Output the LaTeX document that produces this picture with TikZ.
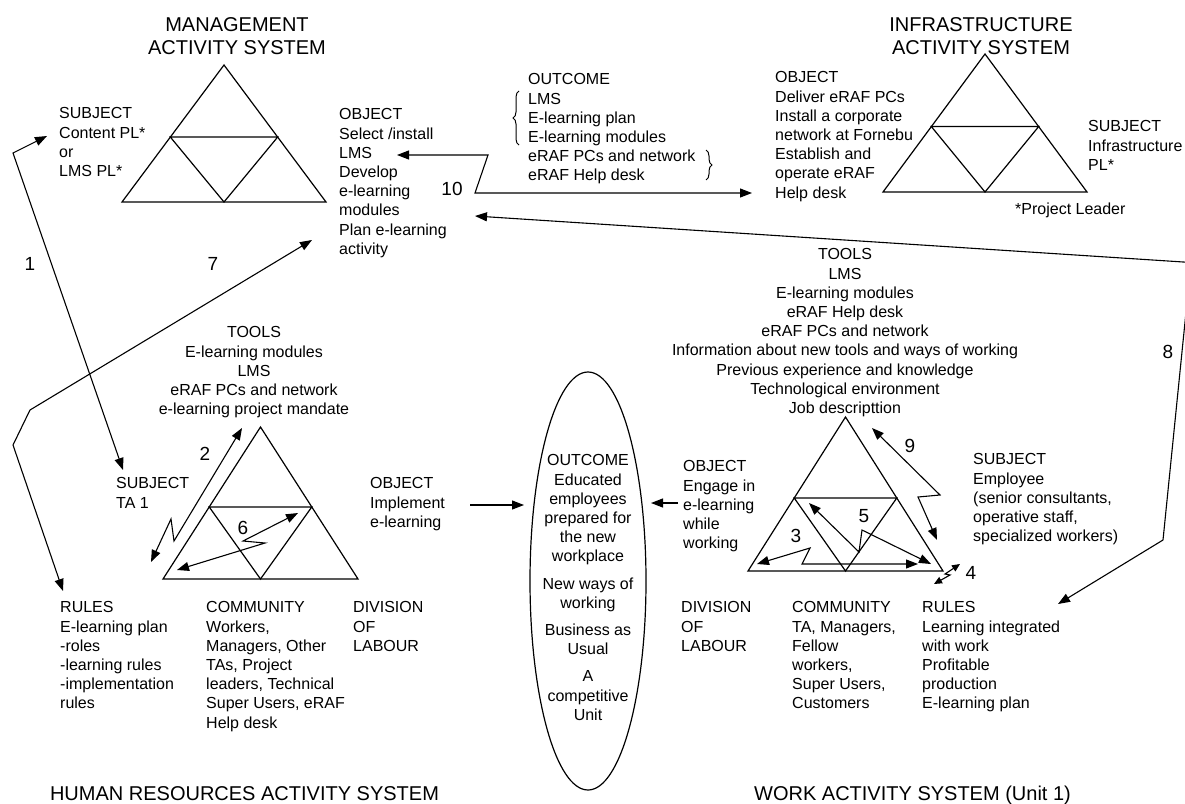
\documentclass[tikz,border=0pt]{standalone}
\usepackage{fontspec}
\setmainfont{Liberation Sans}
\usetikzlibrary{arrows.meta,shapes.geometric,decorations.pathreplacing}
\newcommand\bodyf{\fontsize{16}{19.2}\selectfont}
\newcommand\ttlf{\fontsize{20}{23}\selectfont}
\newcommand\numf{\fontsize{19}{22}\selectfont}
% apex x, apex y, half base, height
\newcommand\acttri[4]{%
  \draw[tri] (#1,#2) -- (#1-#3,#2+#4) -- (#1+#3,#2+#4) -- cycle;
  \draw[tri] (#1-0.526*#3,#2+0.526*#4) -- (#1+0.526*#3,#2+0.526*#4) -- (#1,#2+#4) -- cycle;}
\begin{document}
\begin{tikzpicture}[x=1pt,y=-1pt,
  tri/.style={line width=1.2pt,line join=miter},
  conn/.style={line width=1.1pt,line join=miter,-{Triangle[length=12pt,width=9pt]}},
  dconn/.style={line width=1.1pt,line join=miter,{Triangle[length=12pt,width=9pt]}-{Triangle[length=12pt,width=9pt]}},
  sconn/.style={line width=1.1pt,line join=miter,{Triangle[length=8pt,width=7pt]}-{Triangle[length=8pt,width=7pt]}},
  txt/.style={anchor=north west,align=left,inner sep=0pt,font=\bodyf},
  ctxt/.style={anchor=north,align=center,inner sep=0pt,font=\bodyf},
  ttl/.style={anchor=north,align=center,inner sep=0pt,font=\ttlf},
  num/.style={anchor=base,inner sep=0pt,font=\numf},
  brc/.style={line width=1pt,decorate,decoration={brace,amplitude=6pt}}]
\useasboundingbox (0,0) rectangle (1185,803);
\fill[white] (0,0) rectangle (1185,803);
\clip (0,0) rectangle (1185,803);

% ---------- triangles
\acttri{224}{65}{102}{137}
\acttri{985}{54}{102}{138}
\acttri{260.5}{427}{97.5}{152}
\acttri{845.5}{417}{97.5}{154}

% ---------- management
\node[ttl] (mtitle) at (237,17.7) {MANAGEMENT\\ACTIVITY SYSTEM};
\node[txt] (msub) at (59,107.5) {SUBJECT\\Content PL*\\or\\LMS PL*};
\node[txt] (mobj) at (339,108.5) {OBJECT\\Select /install\\LMS\\Develop\\e-learning\\modules\\Plan e-learning\\activity};

% ---------- outcome (top)
\node[txt] (mout) at (528,73.5) {OUTCOME\\LMS\\E-learning plan\\E-learning modules\\eRAF PCs and network\\eRAF Help desk};
\coordinate (b1a) at (519,145);
\coordinate (b1b) at (519,91);
\draw[brc] (b1a) -- (b1b);
\coordinate (b2a) at (706,150);
\coordinate (b2b) at (706,180);
\draw[brc] (b2a) -- (b2b);

% ---------- infrastructure
\node[ttl] (ititle) at (981,17.7) {INFRASTRUCTURE\\ACTIVITY SYSTEM};
\node[txt] (iobj) at (775,71.5) {OBJECT\\Deliver eRAF PCs\\Install a corporate\\network at Fornebu\\Establish and\\operate eRAF\\Help desk};
\node[txt] (isub) at (1088,120.5) {SUBJECT\\Infrastructure\\PL*};
\node[anchor=base west,inner sep=0pt,font=\bodyf] (pl) at (1015,214) {*Project Leader};

% ---------- human resources
\node[ctxt] (htools) at (254,326.5) {TOOLS\\E-learning modules\\LMS\\eRAF PCs and network\\e-learning project mandate};
\node[txt] (hsub) at (116,477.5) {SUBJECT\\TA 1};
\node[txt] (hobj) at (370,477.5) {OBJECT\\Implement\\e-learning};
\node[txt] (hrul) at (60,601.5) {RULES\\E-learning plan\\-roles\\-learning rules\\-implementation\\rules};
\node[txt] (hcom) at (206,601.5) {COMMUNITY\\Workers,\\Managers, Other\\TAs, Project\\leaders, Technical\\Super Users, eRAF\\Help desk};
\node[txt] (hdiv) at (353,601.5) {DIVISION\\OF\\LABOUR};
\node[anchor=base,inner sep=0pt,font=\ttlf] (htitle) at (244.5,800) {HUMAN RESOURCES ACTIVITY SYSTEM};

% ---------- central outcome
\node[draw,ellipse,line width=1.2pt,minimum width=116pt,minimum height=418pt,inner sep=0pt] (ell) at (588,581) {};
\node[ctxt] (eout) at (588,454.5) {OUTCOME\\Educated\\employees\\prepared for\\the new\\workplace\\[8pt]New ways of\\working\\[8pt]Business as\\Usual\\[8pt]A\\competitive\\Unit};

% ---------- work
\node[ctxt] (wtools) at (845,248.5) {TOOLS\\LMS\\E-learning modules\\eRAF Help desk\\eRAF PCs and network\\Information about new tools and ways of working\\Previous experience and knowledge\\Technological environment\\Job descripttion};
\node[txt] (wobj) at (683,460.5) {OBJECT\\Engage in\\e-learning\\while\\working};
\node[txt] (wsub) at (973,453.5) {SUBJECT\\Employee\\(senior consultants,\\operative staff,\\specialized workers)};
\node[txt] (wdiv) at (681,601.5) {DIVISION\\OF\\LABOUR};
\node[txt] (wcom) at (792,601.5) {COMMUNITY\\TA, Managers,\\Fellow\\workers,\\Super Users,\\Customers};
\node[txt] (wrul) at (922,601.5) {RULES\\Learning integrated\\with work\\Profitable\\production\\E-learning plan};
\node[anchor=base,inner sep=0pt,font=\ttlf] (wtitle) at (912.5,800) {WORK ACTIVITY SYSTEM (Unit 1)};

% ---------- numbers
\node[num] (n1) at (30,270) {1};
\node[num] (n7) at (213,270) {7};
\node[num] (n10) at (452,195) {10};
\node[num] (n2) at (205,460) {2};
\node[num] (n6) at (243,534) {6};
\node[num] (n3) at (796,542) {3};
\node[num] (n5) at (864,522) {5};
\node[num] (n9) at (910,452) {9};
\node[num] (n4) at (971,579) {4};
\node[num] (n8) at (1168,358) {8};

% ---------- connectors
% 1
\coordinate (a1s) at (47,136);
\coordinate (a1c) at (13,153);
\coordinate (a1e) at (123,470);
\draw[dconn] (a1s) -- (a1c) -- (a1e);
% 7
\coordinate (a7s) at (312,240);
\coordinate (a7c1) at (30,410);
\coordinate (a7c2) at (13,445);
\coordinate (a7e) at (63,591);
\draw[dconn] (a7s) -- (a7c1) -- (a7c2) -- (a7e);
% 10
\coordinate (a10s) at (397,155);
\coordinate (a10c1) at (488,155);
\coordinate (a10c2) at (475,193);
\coordinate (a10e) at (752,193);
\draw[dconn] (a10s) -- (a10c1) -- (a10c2) -- (a10e);
% 8
\coordinate (a8s) at (475,216);
\coordinate (a8c1) at (1191,262.5);
\coordinate (a8c2) at (1163,540);
\coordinate (a8e) at (1058,604);
\draw[conn] (a8c2) -- (a8e);
\draw[conn] (a8c2) -- (a8c1) -- (a8s);
% 2
\coordinate (a2s) at (242,428);
\coordinate (a2c1) at (174,541);
\coordinate (a2c2) at (171,519);
\coordinate (a2e) at (151,562);
\draw[dconn] (a2s) -- (a2c1) -- (a2c2) -- (a2e);
% 6
\coordinate (a6s) at (298,513);
\coordinate (a6c1) at (243,541);
\coordinate (a6c2) at (265,543);
\coordinate (a6e) at (177,570);
\draw[dconn] (a6s) -- (a6c1) -- (a6c2) -- (a6e);
% 3
\coordinate (a3s) at (757,564);
\coordinate (a3c1) at (810,548);
\coordinate (a3c2) at (802,564);
\coordinate (a3e) at (918,564);
\draw[dconn] (a3s) -- (a3c1) -- (a3c2) -- (a3e);
% 5
\coordinate (a5s) at (809,503);
\coordinate (a5c1) at (859,552);
\coordinate (a5c2) at (862,530);
\coordinate (a5e) at (931,564);
\draw[dconn] (a5s) -- (a5c1) -- (a5c2) -- (a5e);
% 9
\coordinate (a9s) at (872,428);
\coordinate (a9c1) at (940,495);
\coordinate (a9c2) at (918,497);
\coordinate (a9e) at (937,540);
\draw[dconn] (a9s) -- (a9c1) -- (a9c2) -- (a9e);
% 4
\coordinate (a4s) at (960,564);
\coordinate (a4c1) at (945,574);
\coordinate (a4c2) at (950,575);
\coordinate (a4e) at (934,584);
\draw[sconn] (a4s) -- (a4c1) -- (a4c2) -- (a4e);
% to outcome
\coordinate (hob) at (470,505);
\coordinate (hoe) at (524,505);
\draw[conn] (hob) -- (hoe);
\coordinate (wob) at (678,503);
\coordinate (woe) at (651,503);
\draw[conn] (wob) -- (woe);
\end{tikzpicture}
\end{document}
